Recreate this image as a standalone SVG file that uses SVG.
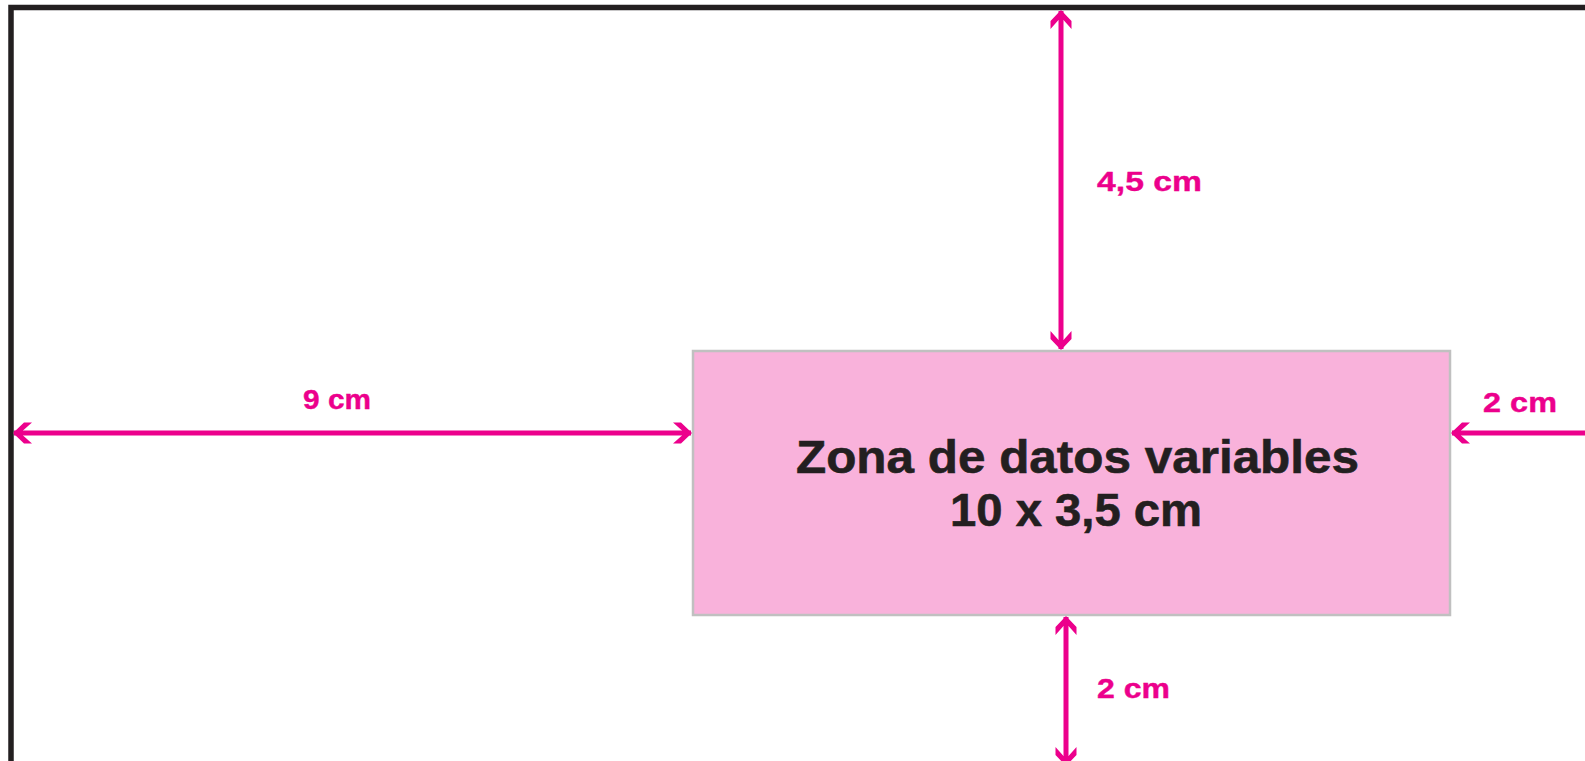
<svg xmlns="http://www.w3.org/2000/svg" width="1585" height="761" viewBox="0 0 1585 761">
  <style>
    .dim { stroke: #EC008C; stroke-width: 5; fill: none; }
    .dimtxt { font-family: "Liberation Sans", Arial, sans-serif; font-weight: bold; font-size: 28px; fill: #EC008C; stroke: #EC008C; stroke-width: 0.4; }
    .main { font-family: "Liberation Sans", Arial, sans-serif; font-weight: bold; font-size: 46px; fill: #231F20; stroke: #231F20; stroke-width: 0.6; }
  </style>
  <defs>
    <marker id="ah" viewBox="-20 -12 22 24" refX="0" refY="0" markerWidth="22" markerHeight="24" markerUnits="userSpaceOnUse" orient="auto-start-reverse">
      <path d="M1,0 L-10,-10.5 L-18,-10.5 L-9,-2.5 L-9,2.5 L-18,10.5 L-10,10.5 Z" fill="#EC008C"/>
    </marker>
  </defs>
  <rect width="1585" height="761" fill="#FFFFFF"/>
  <g id="sheet">
    <rect x="11" y="7.5" width="1700" height="900" fill="none" stroke="#231F20" stroke-width="5.5"/>
  </g>
  <g id="zone">
    <rect x="693" y="351" width="757" height="264" fill="#F9B2DB" stroke="#C0C0C0" stroke-width="2.5"/>
    <text class="main" x="796" y="473" textLength="563" lengthAdjust="spacingAndGlyphs">Zona de datos variables</text>
    <text class="main" x="950" y="526" textLength="252" lengthAdjust="spacingAndGlyphs">10 x 3,5 cm</text>
  </g>
  <g id="connectors">
    <line class="dim" x1="1061" y1="11" x2="1061" y2="349" marker-start="url(#ah)" marker-end="url(#ah)"/>
    <line class="dim" x1="14" y1="433" x2="691" y2="433" marker-start="url(#ah)" marker-end="url(#ah)"/>
    <line class="dim" x1="1700" y1="433" x2="1452" y2="433" marker-end="url(#ah)"/>
    <line class="dim" x1="1066" y1="617" x2="1066" y2="765" marker-start="url(#ah)" marker-end="url(#ah)"/>
  </g>
  <g id="labels">
    <text class="dimtxt" x="1097" y="191" textLength="105" lengthAdjust="spacingAndGlyphs">4,5 cm</text>
    <text class="dimtxt" x="303" y="409" textLength="68" lengthAdjust="spacingAndGlyphs">9 cm</text>
    <text class="dimtxt" x="1483" y="412" textLength="74" lengthAdjust="spacingAndGlyphs">2 cm</text>
    <text class="dimtxt" x="1097" y="698" textLength="73" lengthAdjust="spacingAndGlyphs">2 cm</text>
  </g>
</svg>
